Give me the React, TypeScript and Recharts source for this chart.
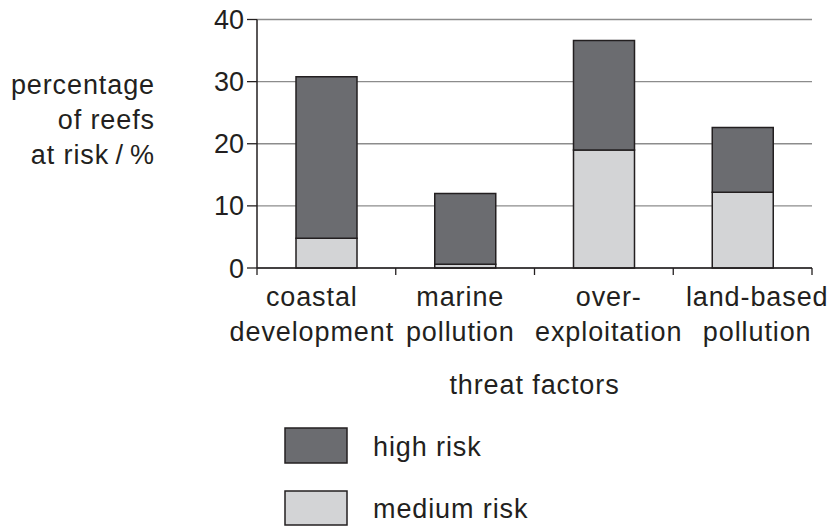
import React from "react";
import { BarChart, Bar, XAxis, YAxis, CartesianGrid, Customized } from "recharts";

const categories = ["coastal development", "marine pollution", "over- exploitation", "land-based pollution"];
const labelLines = [
  ["coastal", "development"],
  ["marine", "pollution"],
  ["over-", "exploitation"],
  ["land-based", "pollution"],
];
const mediumRisk = [4.8, 0.6, 19.0, 12.2];
const highRisk = [26.0, 11.4, 17.6, 10.4];
const yTicks = [0, 10, 20, 30, 40];
const yLabelLines = ["percentage", "of reefs", "at risk\u2009/\u2009%"];
const xLabel = "threat factors";
const seriesNames = { high: "high risk", medium: "medium risk" };

const W = 827;
const H = 526;
const PLOT_L = 257;
const PLOT_R = 812;
const PLOT_T = 19.5;
const PLOT_B = 268;
const X_AXIS_H = 80;
const BAND = (PLOT_R - PLOT_L) / categories.length;

const HIGH = "#6b6c70";
const MEDIUM = "#d3d4d6";
const INK = "#231f20";
const FONT = "'Liberation Sans', Arial, Helvetica, sans-serif";
const textStyle = { fontFamily: FONT, fontSize: 27, letterSpacing: 0.9, fill: INK };

const data = categories.map((name, i) => ({
  name,
  medium: mediumRisk[i],
  high: highRisk[i],
}));

function XTick(props: any) {
  const { x, payload, index } = props;
  const i = payload?.index ?? index;
  const lines = labelLines[i] || [];
  const mid = (PLOT_L + PLOT_R) / 2;
  const lx = (x - mid) * 1.07 + mid;
  const isLast = i === categories.length - 1;
  return (
    <g>
      <line x1={x - BAND / 2} x2={x - BAND / 2} y1={PLOT_B} y2={PLOT_B + 7} stroke={INK} strokeWidth={1.3} />
      {isLast && (
        <line x1={x + BAND / 2} x2={x + BAND / 2} y1={PLOT_B} y2={PLOT_B + 7} stroke={INK} strokeWidth={1.3} />
      )}
      {lines.map((t, k) => (
        <text key={k} x={lx} y={PLOT_B + 38 + k * 35} textAnchor="middle" style={textStyle}>
          {t}
        </text>
      ))}
    </g>
  );
}

function Extras() {
  return (
    <g>
      {yLabelLines.map((t, k) => (
        <text key={k} x={155} y={94 + k * 35} textAnchor="end" style={textStyle}>
          {t}
        </text>
      ))}
      <text x={(PLOT_L + PLOT_R) / 2} y={394} textAnchor="middle" style={textStyle}>
        {xLabel}
      </text>
      <rect x={285} y={428} width={62} height={35} fill={HIGH} stroke={INK} strokeWidth={1.5} />
      <text x={373} y={456} style={textStyle}>{seriesNames.high}</text>
      <rect x={285} y={491} width={62} height={34} fill={MEDIUM} stroke={INK} strokeWidth={1.5} />
      <text x={373} y={518} style={textStyle}>{seriesNames.medium}</text>
    </g>
  );
}

export default function App() {
  return (
    <div style={{ position: "absolute", left: 0, top: 0, width: W, height: H, background: "#fff" }}>
      <BarChart
        width={W}
        height={H}
        data={data}
        margin={{ top: PLOT_T, right: W - PLOT_R, bottom: H - PLOT_B - X_AXIS_H, left: PLOT_L - 60 }}
        barCategoryGap="28%"
      >
        <CartesianGrid vertical={false} stroke="#8c8c8c" strokeWidth={1.3} yAxisId="l" />
        <XAxis
          dataKey="name"
          axisLine={{ stroke: INK, strokeWidth: 1.5 }}
          tickLine={false}
          tick={<XTick />}
          interval={0}
          height={X_AXIS_H}
        />
        <YAxis
          yAxisId="l"
          domain={[0, 40]}
          ticks={yTicks}
          width={60}
          tickSize={10}
          tickMargin={3}
          axisLine={{ stroke: INK, strokeWidth: 1.5 }}
          tickLine={{ stroke: INK, strokeWidth: 1.3 }}
          tick={{ fontFamily: FONT, fontSize: 27, fill: INK }}
        />
        <YAxis
          yAxisId="r"
          orientation="right"
          domain={[0, 40]}
          width={0}
          tick={false}
          tickLine={false}
          axisLine={{ stroke: "#555", strokeWidth: 1.5 }}
        />
        <Bar yAxisId="l" dataKey="medium" stackId="a" fill={MEDIUM} stroke={INK} strokeWidth={1.5} barSize={61} isAnimationActive={false} />
        <Bar yAxisId="l" dataKey="high" stackId="a" fill={HIGH} stroke={INK} strokeWidth={1.5} barSize={61} isAnimationActive={false} />
        <Customized component={Extras} />
      </BarChart>
    </div>
  );
}
